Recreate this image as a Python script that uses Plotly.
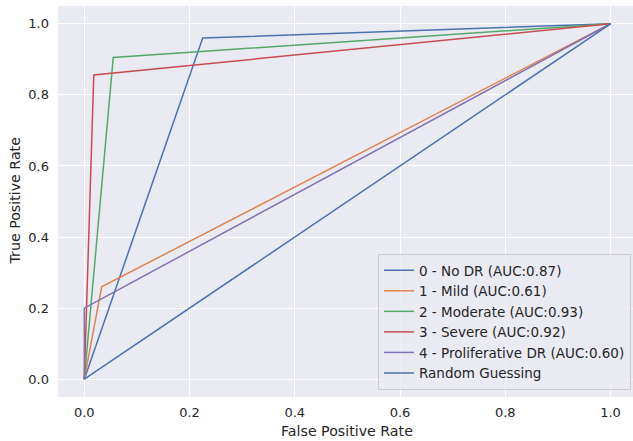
import plotly.graph_objects as go

labels = ["0 - No DR (AUC:0.87)", "1 - Mild (AUC:0.61)", "2 - Moderate (AUC:0.93)",
          "3 - Severe (AUC:0.92)", "4 - Proliferative DR (AUC:0.60)", "Random Guessing"]
fpr_no_dr = [0.0, 0.225, 1.0]
tpr_no_dr = [0.0, 0.960, 1.0]
fpr_mild = [0.0, 0.033, 1.0]
tpr_mild = [0.0, 0.260, 1.0]
fpr_moderate = [0.0, 0.055, 1.0]
tpr_moderate = [0.0, 0.905, 1.0]
fpr_severe = [0.0, 0.018, 1.0]
tpr_severe = [0.0, 0.856, 1.0]
fpr_prolif = [0.0, 0.0, 1.0]
tpr_prolif = [0.0, 0.200, 1.0]
fpr_random = [0.0, 1.0]
tpr_random = [0.0, 1.0]
x_title = "False Positive Rate"
y_title = "True Positive Rate"
tick_vals = [0, 0.2, 0.4, 0.6, 0.8, 1.0]
tick_text = ["0.0", "0.2", "0.4", "0.6", "0.8", "1.0"]

colors = ["#4C72B0", "#DD8452", "#55A868", "#C44E52", "#8172B3", "#4C72B0"]
series = [(fpr_no_dr, tpr_no_dr), (fpr_mild, tpr_mild), (fpr_moderate, tpr_moderate),
          (fpr_severe, tpr_severe), (fpr_prolif, tpr_prolif), (fpr_random, tpr_random)]

fig = go.Figure()
for (xs, ys), name, c in zip(series, labels, colors):
    fig.add_trace(go.Scatter(x=xs, y=ys, mode="lines", name=name,
                             line=dict(color=c, width=1.5)))

font_family = "DejaVu Sans, sans-serif"
txt = "#262626"
fig.update_layout(
    width=633, height=441,
    margin=dict(l=58, r=0, t=6, b=44),
    paper_bgcolor="white", plot_bgcolor="#EAEAF2",
    font=dict(family=font_family, size=13, color=txt),
    xaxis=dict(range=[-0.05, 1.0427], tickvals=tick_vals, ticktext=tick_text,
               showgrid=True, gridcolor="white", gridwidth=1, zeroline=False,
               showline=False, ticks="", ticklabelstandoff=6, automargin=False),
    yaxis=dict(range=[-0.05, 1.05], tickvals=tick_vals, ticktext=tick_text,
               showgrid=True, gridcolor="white", gridwidth=1, zeroline=False,
               showline=False, ticks="", ticklabelstandoff=8, automargin=False),
    legend=dict(x=0.9965, y=0.018, xanchor="right", yanchor="bottom",
                bgcolor="rgba(234,234,242,0.8)", bordercolor="#CCCCCC", borderwidth=1,
                font=dict(size=13.5, color=txt), tracegroupgap=0),
    showlegend=True,
    annotations=[
        dict(text=x_title, xref="paper", yref="paper", x=0.502, y=-0.086,
             xanchor="center", yanchor="middle", showarrow=False,
             font=dict(size=14.2, color=txt)),
        dict(text=y_title, xref="paper", yref="paper", x=-0.0765, y=0.5,
             xanchor="center", yanchor="middle", showarrow=False, textangle=-90,
             font=dict(size=14.2, color=txt)),
    ],
)

fig.write_html("out.html", config={"displayModeBar": False},
               post_script="document.body.style.margin='0';")
